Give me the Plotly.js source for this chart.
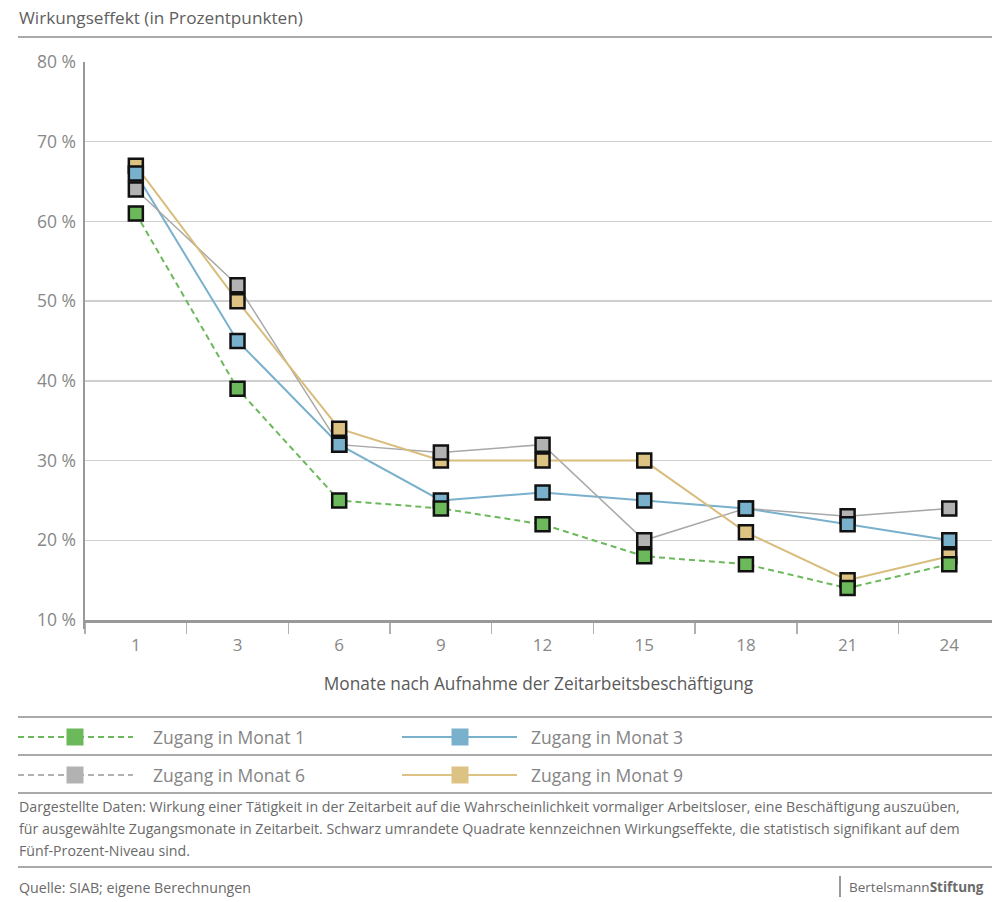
<!DOCTYPE html>
<html>
<head>
<meta charset="utf-8">
<script src="https://cdn.plot.ly/plotly-3.0.1.min.js"></script>
<style>
html,body{margin:0;padding:0;background:#fff;}
#chart{width:992px;height:902px;}
</style>
</head>
<body>
<div id="chart"></div>
<script>
// ---- data ----
const months = ['1', '3', '6', '9', '12', '15', '18', '21', '24'];
const zugangMonat1 = [61, 39, 25, 24, 22, 18, 17, 14, 17];
const zugangMonat3 = [66, 45, 32, 25, 26, 25, 24, 22, 20];
const zugangMonat6 = [64, 52, 32, 31, 32, 20, 24, 23, 24];
const zugangMonat9 = [67, 50, 34, 30, 30, 30, 21, 15, 18];
const seriesNames = ['Zugang in Monat 1', 'Zugang in Monat 3', 'Zugang in Monat 6', 'Zugang in Monat 9'];
const yTicks = [10, 20, 30, 40, 50, 60, 70, 80];
const yTickLabels = ['10 %', '20 %', '30 %', '40 %', '50 %', '60 %', '70 %', '80 %'];

// ---- styles ----
const W = 992, H = 902;
const M = {l: 85, r: 0, t: 62, b: 282};
const PW = W - M.l - M.r, PH = H - M.t - M.b;
const X = px => (px - M.l) / PW;
const Y = py => (H - M.b - py) / PH;

const cGreen = '#6cb95c', cBlue = '#79b0cc', cGray = '#b2b2b2', cYellow = '#dcc283';
const FONT = '"Open Sans", "Noto Sans", sans-serif';

const series = [
  {y: zugangMonat1, name: seriesNames[0], color: cGreen, lw: 2, dash: '6px,4px', lc: cGreen},
  {y: zugangMonat3, name: seriesNames[1], color: cBlue, lw: 2, dash: 'solid', lc: cBlue},
  {y: zugangMonat6, name: seriesNames[2], color: cGray, lw: 1.5, dash: 'solid', lc: '#a8a8a8'},
  {y: zugangMonat9, name: seriesNames[3], color: cYellow, lw: 2, dash: 'solid', lc: '#d8bd7c'}
];

const traces = [];
// lines first (under all markers)
series.forEach(s => traces.push({
  type: 'scatter', mode: 'lines', x: months, y: s.y, name: s.name,
  line: {color: s.lc, width: s.lw, dash: s.dash}, showlegend: false, hoverinfo: 'skip'
}));
// markers: drawn order 9, 6, 3, 1
[3, 2, 1, 0].forEach(i => {
  const s = series[i];
  traces.push({
    type: 'scatter', mode: 'markers', x: months, y: s.y, name: s.name,
    marker: {symbol: 'square', size: 14, color: s.color, line: {color: '#111', width: 2.5}},
    showlegend: false
  });
});

const shapes = [];
const annotations = [];
const hline = (py, color, w) => shapes.push({type: 'line', xref: 'paper', yref: 'paper',
  x0: X(18), x1: X(992), y0: Y(py), y1: Y(py), line: {color: color || '#8c8c8c', width: w || 1.5}});
hline(37);
hline(717);
hline(755);
hline(793);
hline(867);
// y axis extension below x axis
shapes.push({type: 'line', xref: 'paper', yref: 'paper', x0: X(84), x1: X(84), y0: Y(619), y1: Y(629),
  line: {color: '#999', width: 2}});

// custom legend
const legendItems = [
  {s: series[0], x0: 18, x1: 133, sq: 75, tx: 151, cy: 737, dash: 'dash'},
  {s: series[1], x0: 402, x1: 517, sq: 460, tx: 529, cy: 737, dash: 'solid'},
  {s: series[2], x0: 18, x1: 133, sq: 75, tx: 151, cy: 775, dash: 'dash'},
  {s: series[3], x0: 402, x1: 517, sq: 460, tx: 529, cy: 775, dash: 'solid'}
];
legendItems.forEach(it => {
  shapes.push({type: 'line', xref: 'paper', yref: 'paper', x0: X(it.x0), x1: X(it.x1),
    y0: Y(it.cy), y1: Y(it.cy), line: {color: it.s.color, width: 2, dash: it.dash === 'dash' ? '6px,4px' : 'solid'}});
  shapes.push({type: 'rect', xref: 'paper', yref: 'paper', x0: X(it.sq - 8.5), x1: X(it.sq + 8.5),
    y0: Y(it.cy - 8.5), y1: Y(it.cy + 8.5), fillcolor: it.s.color, line: {width: 0}});
  annotations.push({xref: 'paper', yref: 'paper', x: X(it.tx), y: Y(it.cy), xanchor: 'left', yanchor: 'middle',
    text: it.s.name, showarrow: false, font: {family: FONT, size: 17.5, color: '#858585'}});
});

// title
annotations.push({xref: 'paper', yref: 'paper', x: X(17), y: Y(18), xanchor: 'left', yanchor: 'middle',
  text: 'Wirkungseffekt (in Prozentpunkten)', showarrow: false, font: {family: FONT, size: 17.2, color: '#606060'}});

// footer
const footLines = [
  'Dargestellte Daten: Wirkung einer Tätigkeit in der Zeitarbeit auf die Wahrscheinlichkeit vormaliger Arbeitsloser, eine Beschäftigung auszuüben,',
  'für ausgewählte Zugangsmonate in Zeitarbeit. Schwarz umrandete Quadrate kennzeichnen Wirkungseffekte, die statistisch signifikant auf dem',
  'Fünf-Prozent-Niveau sind.'
];
footLines.forEach((t, i) => annotations.push({xref: 'paper', yref: 'paper', x: X(17), y: Y(806 + i * 22),
  xanchor: 'left', yanchor: 'middle', text: t, showarrow: false, font: {family: FONT, size: 14.2, color: '#6a6a6a'}}));
annotations.push({xref: 'paper', yref: 'paper', x: X(17), y: Y(887), xanchor: 'left', yanchor: 'middle',
  text: 'Quelle: SIAB; eigene Berechnungen', showarrow: false, font: {family: FONT, size: 14.2, color: '#6a6a6a'}});
// logo
shapes.push({type: 'line', xref: 'paper', yref: 'paper', x0: X(840), x1: X(840), y0: Y(876), y1: Y(897),
  line: {color: '#777', width: 1.5}});
annotations.push({xref: 'paper', yref: 'paper', x: X(847), y: Y(887), xanchor: 'left', yanchor: 'middle',
  text: 'Bertelsmann<b>Stiftung</b>', showarrow: false, font: {family: FONT, size: 13.5, color: '#6a6a6a'}});

const layout = {
  width: W, height: H,
  margin: M,
  paper_bgcolor: '#fff', plot_bgcolor: '#fff',
  showlegend: false,
  font: {family: FONT, color: '#888'},
  xaxis: {
    type: 'category', categoryorder: 'array', categoryarray: months,
    range: [-0.5, -0.5 + PW / 101.68],
    showline: true, linecolor: '#999', linewidth: 2.5,
    ticks: 'outside', tickson: 'boundaries', ticklen: 11, tickcolor: '#b0b0b0', tickwidth: 1.5,
    ticklabelstandoff: 8,
    showgrid: false, zeroline: false,
    tickfont: {family: FONT, size: 17, color: '#888'},
    title: {text: 'Monate nach Aufnahme der Zeitarbeitsbeschäftigung', standoff: 23,
      font: {family: FONT, size: 17.3, color: '#5a5a5a'}}
  },
  yaxis: {
    range: [10, 80], tickmode: 'array', tickvals: yTicks, ticktext: yTickLabels,
    showline: true, linecolor: '#999', linewidth: 2.5,
    showgrid: true, gridcolor: '#cfcfcf', gridwidth: 1.5,
    zeroline: false, ticks: '', ticklabelstandoff: 3,
    tickfont: {family: FONT, size: 17.5, color: '#888'}
  },
  shapes: shapes,
  annotations: annotations
};

Plotly.newPlot('chart', traces, layout, {displayModeBar: false, staticPlot: true});
</script>
</body>
</html>
